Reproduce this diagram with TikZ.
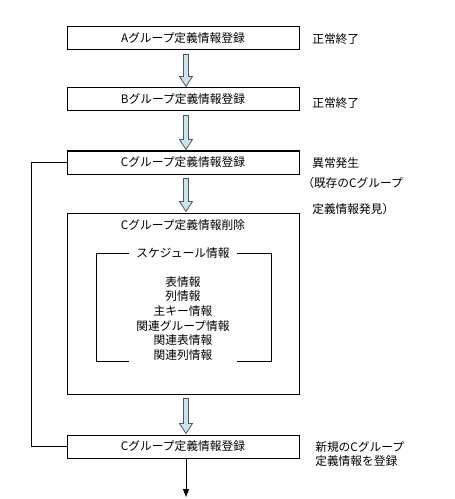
\documentclass[tikz,border=0pt]{standalone}
\usepackage{fontspec}
\setmainfont{Noto Sans CJK JP}
\usepackage{tikz}
\usepackage{xcolor}
\usetikzlibrary{calc,arrows.meta}

\definecolor{arrowfill}{HTML}{C8E4EE}
\definecolor{arrowline}{HTML}{555555}

\tikzset{
  procbox/.style={draw, line width=0.75pt, minimum width=174pt, minimum height=17.25pt, inner sep=0pt},
  note/.style={anchor=west, inner sep=0pt},
  blockarrow/.style={draw=arrowline, fill=arrowfill, line width=0.6pt, line join=miter},
}

% fat arrow between two boxes
\newcommand{\fatarrow}[2]{%
  \draw[blockarrow] ($(#1.south)+(0.5,4)$) -- ($(#2.north)+(0.5,-11)$) -- ($(#2.north)+(-3.5,-11)$)
    -- ($(#2.north)+(3,-1)$) -- ($(#2.north)+(9.5,-11)$) -- ($(#2.north)+(5.5,-11)$)
    -- ($(#1.south)+(5.5,4)$) -- cycle;}

\begin{document}
\begin{tikzpicture}[x=0.75pt,y=-0.75pt,font=\fontsize{8.8pt}{10.95pt}\selectfont]
\useasboundingbox (0,0) rectangle (454,499);

\node[procbox] (grpa) at (183,38.5) {Aグループ定義情報登録};
\node[procbox] (grpb) at (183,99.5) {Bグループ定義情報登録};
\node[procbox] (grpc) at (183,162.5) {Cグループ定義情報登録};
\node[procbox, minimum height=135.75pt] (del) at (183,303.5) {};
\node[procbox] (grpcnew) at (183,446.5) {Cグループ定義情報登録};

% right hand notes
\node[note] (oka) at (312,39.5) {正常終了};
\node[note] (okb) at (312,103.5) {正常終了};
\node[note] (err) at (312,163) {異常発生};
\node[note] (errb) at (302,183.5) {（既存のCグループ};
\node[note] (errc) at (312,209) {定義情報発見）};
\node[note, align=left] (newc) at (315,454) {新規のCグループ\\定義情報を登録};

% contents of the delete box
\node (deltitle) at (183,225) {Cグループ定義情報削除};
\node (sched) at (183,253.3) {スケジュール情報};
\node[align=center] (items) at (183,318.3) {表情報\\列情報\\主キー情報\\関連グループ情報\\関連表情報\\関連列情報};
\draw[line width=0.75pt] (129,253.3) -- (96,253.3) -- (96,361) -- (129,361);
\draw[line width=0.75pt] (236.5,253.3) -- (271.5,253.3) -- (271.5,361) -- (236.5,361);

\fatarrow{grpa}{grpb}
\fatarrow{grpb}{grpc}
\fatarrow{grpc}{del}
\fatarrow{del}{grpcnew}

\coordinate (fin) at (186,497);
\draw[line width=0.75pt, -{Triangle[length=6pt,width=4.5pt]}] ($(grpcnew.south)+(3,0)$) -- (fin);
\draw[line width=0.75pt] (grpc.west) -- ++(-34.7,0) |- (grpcnew.west);
\end{tikzpicture}
\end{document}
